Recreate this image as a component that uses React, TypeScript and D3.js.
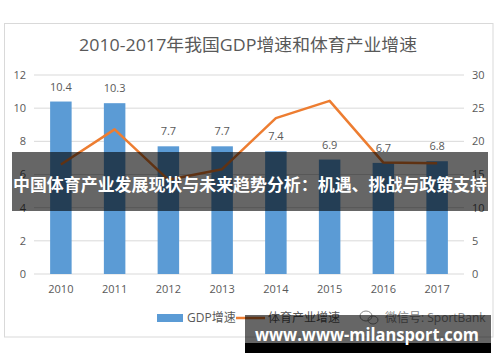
import React from "react";
import { scaleBand, scaleLinear, line } from "d3";

const years = ["2010", "2011", "2012", "2013", "2014", "2015", "2016", "2017"];
const gdpGrowth = [10.4, 10.3, 7.7, 7.7, 7.4, 6.9, 6.7, 6.8];
const sportGrowth = [16.5, 21.8, 14.2, 15.8, 23.5, 26.1, 16.8, 16.7];
const leftTicks = [0, 2, 4, 6, 8, 10, 12];
const rightTicks = [0, 5, 10, 15, 20, 25, 30];

const FONT = "'Open Sans', 'Noto Sans CJK SC', sans-serif";
const CJK = "'Noto Sans CJK SC', sans-serif";
const TXT = "#595959";

export default function App() {
  const x = scaleBand<string>()
    .domain(years)
    .range([34, 464])
    .paddingInner(0.6)
    .paddingOuter(0.3);
  const yL = scaleLinear().domain([0, 12]).range([274, 75]);
  const yR = scaleLinear().domain([0, 30]).range([274, 75]);
  const cx = (k: string) => (x(k) ?? 0) + x.bandwidth() / 2;

  const path = line<number>()
    .x((_, i) => cx(years[i]))
    .y((d) => yR(d))(sportGrowth);

  return (
    <svg
      width={500}
      height={362}
      style={{ position: "absolute", left: 0, top: 0, background: "#fff" }}
    >
      <rect x={4.5} y={23.5} width={488.5} height={313.5} fill="#fff" stroke="#D9D9D9" />
      <text
        x={248}
        y={51}
        textAnchor="middle"
        fontSize={17}
        fill={TXT}
        fontFamily={FONT}
        textLength={338}
        lengthAdjust="spacingAndGlyphs"
      >
        2010-2017年我国GDP增速和体育产业增速
      </text>

      {/* grid */}
      {leftTicks.map((t) => (
        <line key={t} x1={34} x2={464} y1={yL(t)} y2={yL(t)} stroke="#D9D9D9" strokeWidth={1} />
      ))}
      {leftTicks.map((t) => (
        <text key={t} x={26} y={yL(t)} dy="0.35em" textAnchor="end" fontSize={11} fill={TXT} fontFamily={FONT}>
          {t}
        </text>
      ))}
      {rightTicks.map((t) => (
        <text key={t} x={472} y={yR(t)} dy="0.35em" fontSize={11} fill={TXT} fontFamily={FONT}>
          {t}
        </text>
      ))}

      {/* bars */}
      {gdpGrowth.map((v, i) => (
        <g key={years[i]}>
          <rect x={x(years[i])} y={yL(v)} width={x.bandwidth()} height={yL(0) - yL(v)} fill="#5B9BD5" />
          <text x={cx(years[i])} y={yL(v) - 11} textAnchor="middle" fontSize={11} fill={TXT} fontFamily={FONT}>
            {v}
          </text>
          <text x={cx(years[i])} y={289} dy="0.35em" textAnchor="middle" fontSize={11} fill={TXT} fontFamily={FONT}>
            {years[i]}
          </text>
        </g>
      ))}

      <path d={path ?? ""} fill="none" stroke="#ED7D31" strokeWidth={2.5} strokeLinejoin="round" />

      {/* legend */}
      <rect x={157} y={314} width={26} height={8} fill="#5B9BD5" />
      <text x={187} y={318} dy="0.35em" fontSize={12} fill={TXT} fontFamily={FONT}>
        GDP增速
      </text>
      <line x1={236} x2={265} y1={318} y2={318} stroke="#ED7D31" strokeWidth={2.5} />
      <text x={268} y={318} dy="0.35em" fontSize={12} fill={TXT} fontFamily={FONT}>
        体育产业增速
      </text>
      <g stroke="#8a8a8a" fill="none" strokeWidth={1}>
        <ellipse cx={366} cy={316} rx={6} ry={5} />
        <ellipse cx={373} cy={320} rx={5} ry={4} />
      </g>
      <text x={385} y={318} dy="0.35em" fontSize={12} fill="#8a8a8a" fontFamily={FONT}>
        微信号: SportBank
      </text>

      {/* overlay banner */}
      <rect x={12} y={152} width={476} height={59} fill="rgba(0,0,0,0.6)" />
      <text
        x={250}
        y={185}
        dy="0.35em"
        textAnchor="middle"
        fontSize={16.5}
        fontWeight="bold"
        fill="#fff"
        fontFamily={CJK}
        textLength={474}
        lengthAdjust="spacingAndGlyphs"
      >
        中国体育产业发展现状与未来趋势分析：机遇、挑战与政策支持
      </text>

      {/* watermark */}
      <rect x={245} y={315} width={246} height={28} fill="rgba(0,0,0,0.6)" />
      <rect x={245} y={343} width={246} height={10} fill="#000" />
      <text
        x={255}
        y={341}
        fontSize={18}
        fontWeight="bold"
        fill="#fff"
        fontFamily={FONT}
        textLength={224}
        lengthAdjust="spacingAndGlyphs"
      >
        www.www-milansport.com
      </text>
    </svg>
  );
}
